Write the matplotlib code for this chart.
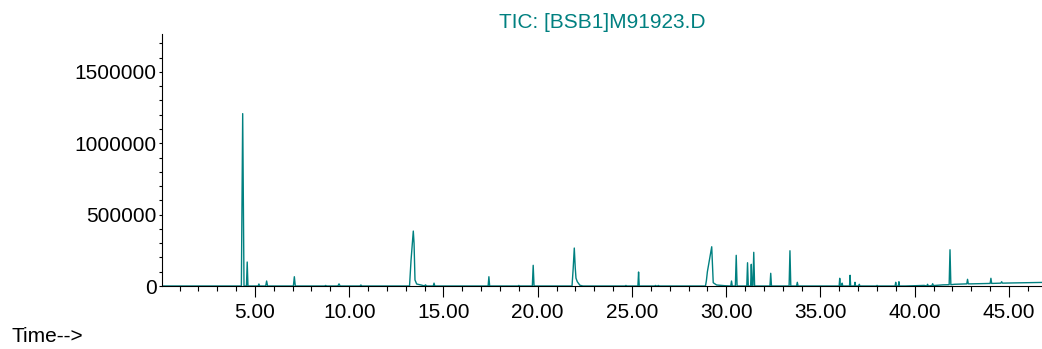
import matplotlib
matplotlib.use("Agg")
import matplotlib.pyplot as plt
from matplotlib.ticker import MultipleLocator, FixedLocator
import numpy as np

plt.rcParams['font.family'] = ['Liberation Sans', 'DejaVu Sans']

TEAL = "#008080"
TITLE = "TIC: [BSB1]M91923.D"

# slowly rising baseline (time in min, abundance)
base_t = [0.07, 39.5, 40.5, 41.5, 42.1, 43.0, 44.0, 45.0, 46.75]
base_v = [0, 0, 4000, 8000, 12000, 15000, 18000, 21000, 25000]

# sharp peaks: retention time, apex abundance, half base width, foot level
peak_rt = [4.35, 4.59, 5.21, 5.62, 7.09, 8.75, 9.46, 10.62, 14.05, 14.50,
           17.41, 19.00, 19.76, 24.68, 25.35, 26.25, 26.40, 30.28, 30.53,
           31.13, 31.33, 31.46, 32.36, 33.38, 33.77, 36.02, 36.15, 36.57,
           36.83, 37.06, 38.00, 38.99, 39.16, 40.68, 40.95, 41.87, 42.80,
           44.04, 44.61]
peak_h = [1208000, 168000, 14000, 35000, 65000, 4000, 15000, 7000, 8000, 20000,
          65000, 4000, 145000, 4000, 98000, 4000, 4000, 35000, 215000,
          163000, 152000, 236000, 89000, 247000, 26000, 54000, 20000, 75000,
          26000, 12000, 4000, 26000, 30000, 12000, 16000, 254000, 47000,
          54000, 30000]
peak_w = [0.07, 0.04, 0.04, 0.05, 0.05, 0.05, 0.06, 0.05, 0.05, 0.04,
          0.04, 0.04, 0.045, 0.04, 0.035, 0.05, 0.05, 0.04, 0.045,
          0.04, 0.035, 0.045, 0.04, 0.045, 0.04, 0.03, 0.03, 0.03,
          0.03, 0.03, 0.04, 0.03, 0.03, 0.04, 0.04, 0.045, 0.04,
          0.04, 0.04]
peak_foot = [0] * 34 + [3000, 9000, 15000, 18000, 20000]

# tailing peaks traced point by point
tail1_t = [13.20, 13.28, 13.40, 13.44, 13.49, 13.58, 13.84, 14.00]
tail1_v = [0, 180000, 385000, 300000, 42000, 14000, 6000, 2000]
tail2_t = [21.82, 21.88, 21.94, 21.99, 22.03, 22.10, 22.24, 22.40]
tail2_v = [0, 120000, 266000, 130000, 55000, 30000, 5000, 0]
tail3_t = [28.90, 28.95, 29.00, 29.23, 29.27, 29.31, 29.49, 29.93]
tail3_v = [0, 40000, 100000, 275000, 150000, 23000, 7000, 2000]

x_major = [5, 10, 15, 20, 25, 30, 35, 40, 45]
x_labels = ["5.00", "10.00", "15.00", "20.00", "25.00", "30.00", "35.00", "40.00", "45.00"]
y_major = [0, 500000, 1000000, 1500000]

# assemble trace
pts = list(zip(base_t, base_v))
for rt, h, w, f in zip(peak_rt, peak_h, peak_w, peak_foot):
    pts += [(rt - w, f), (rt, h), (rt + w, f)]
for tt, vv in [(tail1_t, tail1_v), (tail2_t, tail2_v), (tail3_t, tail3_v)]:
    pts += list(zip(tt, vv))
pts.sort(key=lambda p: p[0])
t = np.array([p[0] for p in pts])
v = np.array([p[1] for p in pts])

fig = plt.figure(figsize=(10.42, 3.49), dpi=100)
ax = fig.add_axes([162 / 1042, 63 / 349, 880 / 1042, 252 / 349])
ax.plot(t, v, color=TEAL, lw=1.0)

ax.set_xlim(0.07, 46.75)
ax.set_ylim(0, 1766000)

for s in ["top", "right"]:
    ax.spines[s].set_visible(False)
ax.spines["left"].set_linewidth(0.8)
ax.spines["bottom"].set_linewidth(0.8)

ax.xaxis.set_major_locator(FixedLocator(x_major))
ax.set_xticklabels(x_labels)
ax.xaxis.set_minor_locator(MultipleLocator(1))
ax.yaxis.set_major_locator(FixedLocator(y_major))
ax.set_yticklabels([str(y) for y in y_major])
ax.yaxis.set_minor_locator(MultipleLocator(100000))

ax.tick_params(axis="x", which="major", length=8, width=0.8, pad=4, labelsize=15)
ax.tick_params(axis="x", which="minor", length=3.6, width=0.8)
ax.tick_params(axis="y", which="both", length=2.2, width=0.8, pad=1.5, labelsize=15)

fig.text(602 / 1042, 1 - 22 / 349, TITLE, color=TEAL, fontsize=15, ha="center", va="center")
fig.text(12 / 1042, 1 - 336 / 349, "Time-->", fontsize=15, ha="left", va="center")

fig.savefig("out.png", dpi=100)
